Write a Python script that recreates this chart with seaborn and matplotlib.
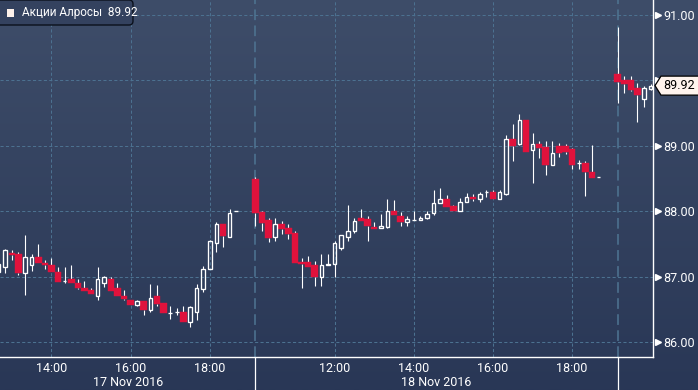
import numpy as np
import pandas as pd
import matplotlib
matplotlib.use("Agg")
import matplotlib.pyplot as plt
import seaborn as sns
from matplotlib.patches import Polygon, FancyBboxPatch, Rectangle
from matplotlib.transforms import IdentityTransform

# ---------------- data (10-minute candles, ALROSA shares) ----------------
day_labels = ["17 Nov 2016", "18 Nov 2016", "21 Nov 2016"]

day1_time = ["12:40", "12:50", "13:00", "13:10", "13:20", "13:30", "13:40", "13:50",
             "14:00", "14:10", "14:20", "14:30", "14:40", "14:50", "15:00", "15:10",
             "15:20", "15:30", "15:40", "15:50", "16:00", "16:10", "16:20", "16:30",
             "16:40", "16:50", "17:00", "17:10", "17:20", "17:30", "17:40", "17:50",
             "18:00", "18:10", "18:20", "18:30", "18:40"]
day1_open = [87.07, 87.15, 87.36, 87.35, 87.06, 87.18, 87.30, 87.21, 87.17, 87.07,
             86.93, 86.96, 86.90, 86.83, 86.80, 86.71, 86.90, 86.96, 86.82, 86.70,
             86.64, 86.56, 86.62, 86.49, 86.70, 86.59, 86.45, 86.46, 86.46, 86.30,
             86.46, 86.81, 87.11, 87.51, 87.80, 87.60, 88.00]
day1_high = [87.22, 87.42, 87.40, 87.38, 87.64, 87.35, 87.50, 87.26, 87.28, 87.14,
             87.15, 87.18, 86.97, 86.93, 86.82, 87.15, 87.01, 86.99, 86.90, 86.80,
             86.64, 86.64, 86.62, 86.89, 86.87, 86.59, 86.55, 86.52, 86.55, 86.55,
             86.88, 87.16, 87.56, 87.84, 87.81, 88.03, 88.00]
day1_low = [87.05, 87.05, 87.26, 87.02, 86.72, 87.09, 87.21, 87.11, 87.07, 86.92,
            86.90, 86.90, 86.81, 86.78, 86.73, 86.64, 86.84, 86.78, 86.71, 86.65,
            86.56, 86.55, 86.41, 86.46, 86.55, 86.44, 86.35, 86.41, 86.30, 86.23,
            86.34, 86.77, 87.11, 87.38, 87.46, 87.60, 88.00]
day1_close = [87.20, 87.41, 87.33, 87.05, 87.30, 87.30, 87.21, 87.17, 87.07, 86.92,
              86.93, 86.90, 86.82, 86.78, 86.73, 86.96, 86.99, 86.78, 86.71, 86.66,
              86.56, 86.62, 86.49, 86.68, 86.58, 86.44, 86.45, 86.46, 86.30, 86.53,
              86.82, 87.11, 87.54, 87.80, 87.62, 87.98, 88.00]

day2_time = ["10:00", "10:10", "10:20", "10:30", "10:40", "10:50",
             "11:00", "11:10", "11:20", "11:30", "11:40", "11:50",
             "12:00", "12:10", "12:20", "12:30", "12:40", "12:50",
             "13:00", "13:10", "13:20", "13:30", "13:40", "13:50",
             "14:00", "14:10", "14:20", "14:30", "14:40", "14:50",
             "15:00", "15:10", "15:20", "15:30", "15:40", "15:50",
             "16:00", "16:10", "16:20", "16:30", "16:40", "16:50",
             "17:00", "17:10", "17:20", "17:30", "17:40", "17:50",
             "18:00", "18:10", "18:20", "18:30", "18:40"]
day2_open = [88.49, 87.99, 87.87, 87.60, 87.80, 87.74,
             87.66, 87.22, 87.22, 87.17, 86.99, 87.17,
             87.20, 87.44, 87.61, 87.69, 87.89, 87.88,
             87.76, 87.75, 87.76, 88.00, 87.93, 87.84,
             87.87, 87.86, 87.89, 87.97, 88.12, 88.18,
             88.08, 88.01, 88.14, 88.21, 88.18, 88.30,
             88.29, 88.19, 88.26, 89.10, 89.03, 89.39,
             88.93, 89.02, 88.98, 88.70, 89.00, 89.00,
             88.95, 88.73, 88.73, 88.60, 88.52]
day2_high = [88.52, 88.01, 87.89, 87.89, 87.85, 87.80,
             87.70, 87.28, 87.31, 87.24, 87.35, 87.35,
             87.54, 87.63, 88.09, 87.89, 88.03, 87.93,
             87.83, 87.96, 88.19, 88.17, 87.99, 87.93,
             88.01, 87.92, 88.00, 88.32, 88.36, 88.25,
             88.10, 88.20, 88.28, 88.27, 88.29, 88.33,
             88.33, 88.33, 89.17, 89.34, 89.48, 89.39,
             89.19, 89.07, 89.07, 89.07, 89.04, 89.03,
             88.97, 88.79, 88.77, 89.01, 88.52]
day2_low = [87.78, 87.69, 87.53, 87.54, 87.65, 87.57,
            87.21, 86.82, 87.15, 86.86, 86.86, 87.17,
            86.99, 87.41, 87.55, 87.67, 87.85, 87.55,
            87.73, 87.75, 87.75, 87.94, 87.77, 87.77,
            87.87, 87.86, 87.88, 87.94, 88.12, 88.07,
            88.00, 88.01, 88.14, 88.16, 88.14, 88.21,
            88.19, 88.19, 88.25, 88.77, 89.01, 88.91,
            88.43, 88.82, 88.55, 88.70, 88.83, 88.87,
            88.65, 88.65, 88.23, 88.51, 88.52]
day2_close = [87.98, 87.82, 87.59, 87.80, 87.73, 87.65,
              87.21, 87.20, 87.15, 86.99, 87.17, 87.20,
              87.51, 87.63, 87.69, 87.85, 87.85, 87.78,
              87.73, 87.77, 88.00, 87.94, 87.84, 87.88,
              87.87, 87.89, 87.96, 88.12, 88.18, 88.07,
              88.00, 88.14, 88.21, 88.18, 88.27, 88.30,
              88.19, 88.29, 89.10, 89.00, 89.39, 88.91,
              89.02, 88.97, 88.70, 88.89, 88.89, 88.91,
              88.70, 88.73, 88.60, 88.51, 88.52]

day3_time = ["10:00", "10:10", "10:20", "10:30", "10:40", "10:50"]
day3_open = [90.10, 90.00, 90.00, 89.88, 89.71, 89.87]
day3_high = [90.81, 90.06, 90.06, 89.96, 89.92, 89.94]
day3_low = [89.66, 89.81, 89.84, 89.37, 89.60, 89.86]
day3_close = [89.98, 89.95, 89.86, 89.78, 89.88, 89.92]

legend_label = "Акции Алросы"
last_price = day3_close[-1]

y_major = [86, 87, 88, 89, 90, 91]
y_minor = [86.5, 87.5, 88.5, 89.5, 90.5]
day1_ticks = [13, 14, 15, 16, 17, 18, 19]
day2_ticks = [11, 12, 13, 14, 15, 16, 17, 18, 19]
day1_labeled = [14, 16, 18]
day2_labeled = [12, 14, 16, 18]

# ---------------- layout constants ----------------
W, H = 698, 390
DAY_SPAN = 9.15          # compressed session length on the x axis (hours)
XLIM = (12.702, 29.192)
YLIM = (85.771, 91.229)
AX_RIGHT, AX_BOTTOM = 653, 357

RED = "#e0123c"
WHITE = "#ffffff"
GRID = "#4c7190"
SEP = "#4f7593"

def to_pos(t, day_idx):
    h, m = t.split(":")
    return int(h) + int(m) / 60 + day_idx * DAY_SPAN

frames = []
for i, (tt, o, hi, lo, c) in enumerate([
        (day1_time, day1_open, day1_high, day1_low, day1_close),
        (day2_time, day2_open, day2_high, day2_low, day2_close),
        (day3_time, day3_open, day3_high, day3_low, day3_close)]):
    frames.append(pd.DataFrame({"day": i, "time": tt, "open": o, "high": hi,
                                "low": lo, "close": c,
                                "pos": [to_pos(t, i) for t in tt]}))
df = pd.concat(frames, ignore_index=True)
df["top"] = df[["open", "close"]].max(axis=1)
df["bot"] = df[["open", "close"]].min(axis=1)
df["up"] = df["close"] >= df["open"]

# ---------------- figure ----------------
sns.set_theme(style="dark")
plt.rcParams["font.family"] = ["Roboto", "DejaVu Sans"]
plt.rcParams["lines.scale_dashes"] = True

fig = plt.figure(figsize=(W / 100, H / 100), dpi=100)

# background gradient
bg = fig.add_axes([0, 0, 1, 1], zorder=-10)
top_c = np.array([0x3e, 0x4d, 0x69]) / 255
bot_c = np.array([0x29, 0x37, 0x56]) / 255
g = np.linspace(0, 1, 390)[:, None, None]
grad = top_c[None, None, :] * (1 - g) + bot_c[None, None, :] * g
bg.imshow(grad, aspect="auto", extent=[0, 1, 0, 1], interpolation="bilinear")
bg.set_axis_off()

ax = fig.add_axes([0, 1 - AX_BOTTOM / H, AX_RIGHT / W, AX_BOTTOM / H])
ax.set_facecolor("none")
ax.set_xlim(*XLIM)
ax.set_ylim(*YLIM)

# wicks (split so that hollow bodies stay empty)
ax.vlines(df["pos"], df["top"], df["high"], color=WHITE, lw=0.8, zorder=3)
ax.vlines(df["pos"], df["low"], df["bot"], color=WHITE, lw=0.8, zorder=3)

down = df[~df["up"]]
up = df[df["up"]]
ax.bar(down["pos"], down["close"] - down["open"], bottom=down["open"],
       width=10 / 60, color=RED, edgecolor=RED, linewidth=0.3, zorder=4)
ax.bar(up["pos"], up["close"] - up["open"], bottom=up["open"],
       width=0.09, fill=False, edgecolor=WHITE, linewidth=0.95, zorder=4)

# axes / ticks (the label hidden behind the last-price flag is left blank)
ax.yaxis.tick_right()
ax.set_yticks(y_major)
ax.set_yticklabels(["" if abs(v - last_price) < 0.2 else f"{v:.2f}"
                    for v in y_major])
ax.set_yticks(y_minor, minor=True)
ax.tick_params(axis="y", which="major", length=0, pad=7.3, labelcolor=WHITE,
               labelsize=9)
ax.tick_params(axis="y", which="minor", length=3, width=0.8, color=WHITE,
               direction="out")

major_x = [h for h in day1_labeled] + [h + DAY_SPAN for h in day2_labeled]
minor_x = [h for h in day1_ticks if h not in day1_labeled] + \
          [h + DAY_SPAN for h in day2_ticks if h not in day2_labeled]
ax.set_xticks(major_x)
ax.set_xticklabels([f"{h:02d}:00" for h in day1_labeled + day2_labeled])
ax.set_xticks(minor_x, minor=True)
ax.tick_params(axis="x", which="both", length=3, width=0.8, color=WHITE,
               direction="out", pad=0.5, labelcolor=WHITE, labelsize=9)

ax.grid(False)
ax.grid(which="major", axis="both", color=GRID, lw=0.75, ls=(0, (3, 2.2)),
        zorder=1)
ax.set_axisbelow(True)

sns.despine(ax=ax, left=True, top=True, right=False, bottom=False)
for s in ("right", "bottom"):
    ax.spines[s].set_color(WHITE)
    ax.spines[s].set_linewidth(1.0)
    ax.spines[s].set_visible(True)

# day separators
for i in (1, 2):
    p = to_pos("10:00", i)
    ax.axvline(p, color=SEP, lw=1.1, ls=(0, (7, 3.5)), zorder=2)
    ax.plot([p, p], [0, -(H - AX_BOTTOM) / AX_BOTTOM], color=WHITE, lw=0.9,
            transform=ax.get_xaxis_transform(), clip_on=False, zorder=5)

# date labels centred on visible part of each day
starts = [XLIM[0], to_pos("10:00", 1), to_pos("10:00", 2)]
ends = [to_pos("10:00", 1), to_pos("10:00", 2), XLIM[1]]
for lab, s, e in zip(day_labels, starts, ends):
    if e - s > 3:
        ax.text((s + e) / 2, -(383 - AX_BOTTOM) / AX_BOTTOM, lab,
                transform=ax.get_xaxis_transform(), ha="center", va="center",
                color=WHITE, fontsize=9)

# arrow markers at labelled price ticks
ax.plot([1 + 4.5 / AX_RIGHT] * len(y_major), y_major, ls="none", marker=">",
        ms=5, color=WHITE, mec=WHITE, transform=ax.get_yaxis_transform(),
        clip_on=False, zorder=6)

# last price flag
xr = ax.transAxes.transform((1, 0))[0]
yl = ax.transData.transform((XLIM[0], last_price))[1]
flag = Polygon([(xr + 2, yl), (xr + 8, yl + 9.5), (xr + 50, yl + 9.5),
                (xr + 50, yl - 9.5), (xr + 8, yl - 9.5)], closed=True,
               facecolor="#fff4ee", edgecolor="#000000", lw=0.9,
               transform=IdentityTransform(), zorder=10)
fig.add_artist(flag)
fig.text((xr + 10) / W, yl / H, f"{last_price:.2f}", ha="left", va="center",
         color="#000000", fontsize=9, zorder=11)

# legend box top-left
box = FancyBboxPatch((-4, H - 25), 137, 25,
                     boxstyle="round,pad=0,rounding_size=4",
                     facecolor="#34425f", edgecolor="#0b111c", lw=1.0,
                     transform=IdentityTransform(), zorder=10)
fig.add_artist(box)
fig.add_artist(Rectangle((7, H - 16.5), 7, 8, facecolor="#fdf1ea",
                         edgecolor="none", transform=IdentityTransform(),
                         zorder=11))
fig.text(22 / W, 1 - 12.5 / H, f"{legend_label}  {last_price:.2f}",
         ha="left", va="center", color=WHITE, fontsize=8.5, zorder=11)

fig.savefig("out.png", dpi=100)
